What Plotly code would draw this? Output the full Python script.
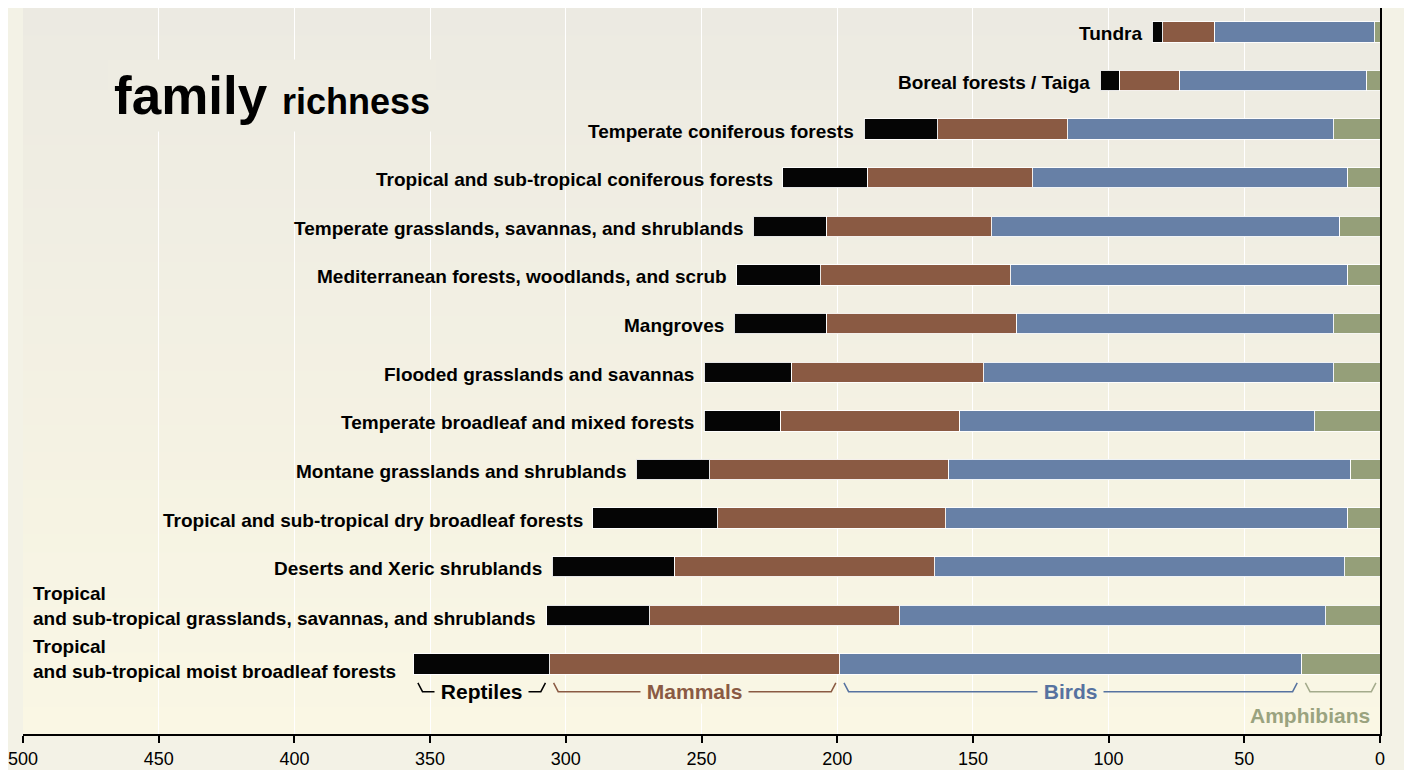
import plotly.graph_objects as go

# biomes listed bottom -> top
biomes = [
    "Tropical<br>and sub-tropical moist broadleaf forests",
    "Tropical<br>and sub-tropical grasslands, savannas, and shrublands",
    "Deserts and Xeric shrublands",
    "Tropical and sub-tropical dry broadleaf forests",
    "Montane grasslands and shrublands",
    "Temperate broadleaf and mixed forests",
    "Flooded grasslands and savannas",
    "Mangroves",
    "Mediterranean forests, woodlands, and scrub",
    "Temperate grasslands, savannas, and shrublands",
    "Tropical and sub-tropical coniferous forests",
    "Temperate coniferous forests",
    "Boreal forests / Taiga",
    "Tundra",
]
amphibians = [29, 20, 13, 12, 11, 24, 17, 17, 12, 15, 12, 17, 5, 2]
birds = [170, 157, 151, 148, 148, 131, 129, 117, 124, 128, 116, 98, 69, 59]
mammals = [107, 92, 96, 84, 88, 66, 71, 70, 70, 61, 61, 48, 22, 19]
reptiles = [50, 38, 45, 46, 27, 28, 32, 34, 31, 27, 31, 27, 7, 4]

groups = ["Amphibians", "Birds", "Mammals", "Reptiles"]
bar_colors = ["#959f79", "#6780a6", "#8a5a43", "#050505"]
text_colors = ["#9aa37f", "#5672a0", "#8a5a43", "#000000"]
bracket_colors = ["#a4ab8c", "#5672a0", "#8a5a43", "#000000"]

FONT = "Liberation Sans, Arial, sans-serif"
TOP_BG = (236, 234, 226)
BOT_BG = (250, 247, 228)


def bg_at(frac):
    # frac = 0 at bottom of plot area, 1 at top
    c = [round(b + (t - b) * frac) for t, b in zip(TOP_BG, BOT_BG)]
    return "rgb(%d,%d,%d)" % tuple(c)


ypos = list(range(len(biomes)))
series = [amphibians, birds, mammals, reptiles]
totals = [sum(v) for v in zip(*series)]

fig = go.Figure()
for name, vals, col in zip(groups, series, bar_colors):
    fig.add_trace(
        go.Bar(
            y=ypos,
            x=vals,
            name=name,
            orientation="h",
            marker=dict(color=col, line=dict(color="rgba(255,255,255,0.9)", width=1)),
            width=0.42,
            showlegend=False,
            hovertemplate=name + ": %{x}<extra></extra>",
        )
    )

# gradient background of the plot area
n_bands = 80
shapes = []
for i in range(n_bands):
    shapes.append(
        dict(
            type="rect", xref="paper", yref="paper",
            x0=0, x1=1, y0=i / n_bands, y1=(i + 1) / n_bands + 0.002,
            fillcolor=bg_at((i + 0.5) / n_bands), line=dict(width=0), layer="below",
        )
    )

annotations = []
# biome labels
for i, (lab, tot) in enumerate(zip(biomes, totals)):
    if "<br>" in lab:
        annotations.append(dict(
            x=0.006, xref="paper", y=i, yref="y", xanchor="left", yanchor="middle",
            text="<b>%s</b>" % lab, align="left", showarrow=False,
            font=dict(family=FONT, size=19, color="black"),
            yshift=5 if i == 0 else 9,
        ))
    else:
        annotations.append(dict(
            x=tot, y=i, xanchor="right", yanchor="middle", text="<b>%s</b>" % lab,
            showarrow=False, xshift=-8, yshift=-2,
            font=dict(family=FONT, size=19, color="black"),
        ))

# bracket legend under the bottom bar
y_top, y_low = -0.39, -0.57
edges = [0]
for vals in series:
    edges.append(edges[-1] + vals[0])
for k, name in enumerate(groups):
    a, b = edges[k] + 1.5, edges[k + 1] - 1.5
    hook = 1.7
    fig.add_trace(go.Scatter(
        x=[b, b - hook, a + hook, a], y=[y_top, y_low, y_low, y_top],
        mode="lines", line=dict(color=bracket_colors[k], width=1.5),
        hoverinfo="skip", showlegend=False,
    ))
    if name == "Amphibians":
        annotations.append(dict(
            x=a + 1.5, y=-1.05, xanchor="right", yanchor="middle",
            text="<b>%s</b>" % name, showarrow=False,
            font=dict(family=FONT, size=21, color=text_colors[k]),
        ))
    else:
        annotations.append(dict(
            x=(edges[k] + edges[k + 1]) / 2, y=y_low, xanchor="center", yanchor="middle",
            text="<b>&nbsp;%s&nbsp;</b>" % name, showarrow=False, borderpad=0,
            bgcolor=bg_at((y_low + 1.44) / 14.93),
            font=dict(family=FONT, size=21, color=text_colors[k]),
        ))

# title
annotations.append(dict(
    x=0.062, xref="paper", y=0.880, yref="paper", xanchor="left", yanchor="middle",
    text="<b>family</b> <b><span style='font-size:36px'>richness</span></b>",
    showarrow=False, bgcolor=bg_at(0.88), borderpad=6,
    font=dict(family=FONT, size=53, color="black"),
))

fig.update_layout(
    width=1412,
    height=770,
    barmode="stack",
    paper_bgcolor="#f3f2e6",
    plot_bgcolor="rgba(0,0,0,0)",
    margin=dict(l=12, r=40, t=0, b=44),
    shapes=shapes,
    annotations=annotations,
    font=dict(family=FONT, color="black"),
)
fig.update_xaxes(
    range=[500, 0],
    tick0=0,
    dtick=50,
    showgrid=True,
    gridcolor="white",
    gridwidth=1,
    zeroline=False,
    showline=True,
    linecolor="black",
    linewidth=2,
    ticks="outside",
    ticklen=7,
    tickwidth=1.5,
    tickcolor="black",
    ticklabeloverflow="allow",
    tickfont=dict(family=FONT, size=18, color="black"),
)
fig.update_yaxes(
    range=[-1.44, 13.49],
    side="right",
    showgrid=False,
    zeroline=False,
    showticklabels=False,
    showline=True,
    linecolor="black",
    linewidth=2,
)

fig.write_html("out.html")
